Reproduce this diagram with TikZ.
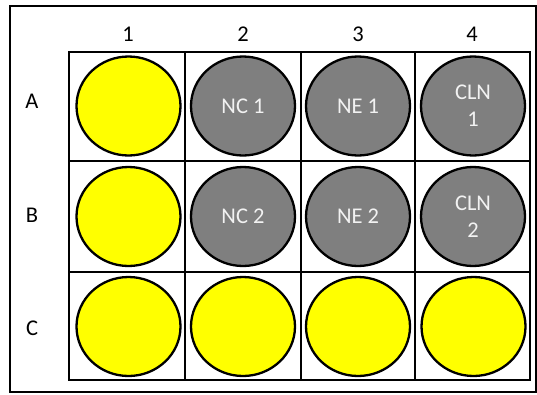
\documentclass[tikz,border=0pt]{standalone}
\usepackage{fontspec}
\setmainfont{Carlito}
\usetikzlibrary{shapes.geometric}
\definecolor{wellyellow}{HTML}{FFFF00}
\definecolor{wellgray}{HTML}{7F7F7F}
\definecolor{wellfont}{HTML}{F2F2F2}
\tikzset{
  well/.style={ellipse, draw=black, line width=2.3pt, minimum width=104pt, minimum height=99pt, inner sep=0pt, align=center, font=\fontsize{22.5}{27}\selectfont},
  yellowwell/.style={well, fill=wellyellow},
  graywell/.style={well, fill=wellgray, text=wellfont},
  gridline/.style={line width=2.3pt},
  lbl/.style={font=\fontsize{22.5}{27}\selectfont, text=black}
}
\begin{document}
\begin{tikzpicture}[x=1pt,y=-1pt]
\useasboundingbox (0,0) rectangle (537,394);
\draw[line width=2.5pt] (10,6) rectangle (536,392);
% grid
\draw[gridline] (69,52) rectangle (530,380);
\draw[gridline] (185,52) -- (185,380);
\draw[gridline] (301,52) -- (301,380);
\draw[gridline] (415,52) -- (415,380);
\draw[gridline] (69,161) -- (530,161);
\draw[gridline] (69,272) -- (530,272);
% column labels
\node[lbl] (c1) at (128,34) {1};
\node[lbl] (c2) at (243,34) {2};
\node[lbl] (c3) at (358,34) {3};
\node[lbl] (c4) at (472,34) {4};
% row labels
\node[lbl] (rA) at (32,101) {A};
\node[lbl] (rB) at (32,215) {B};
\node[lbl] (rC) at (32,328) {C};
% wells
\node[yellowwell] (A1) at (128.5,106) {};
\node[graywell] (A2) at (243,106) {NC 1};
\node[graywell] (A3) at (358,106) {NE 1};
\node[graywell] (A4) at (473,106) {CLN\\1};
\node[yellowwell] (B1) at (128.5,216.5) {};
\node[graywell] (B2) at (243,216.5) {NC 2};
\node[graywell] (B3) at (358,216.5) {NE 2};
\node[graywell] (B4) at (473,216.5) {CLN\\2};
\node[yellowwell] (C1) at (128.5,326.5) {};
\node[yellowwell] (C2) at (243,326.5) {};
\node[yellowwell] (C3) at (358,326.5) {};
\node[yellowwell] (C4) at (473.5,326.5) {};
\end{tikzpicture}
\end{document}
